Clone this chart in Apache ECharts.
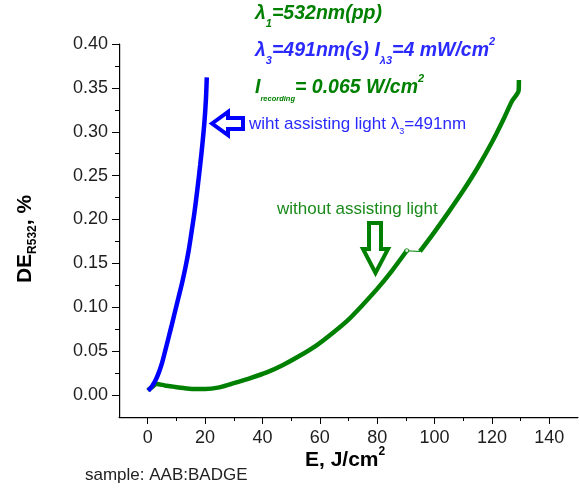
<!DOCTYPE html>
<html>
<head>
<meta charset="utf-8">
<script src="https://cdn.jsdelivr.net/npm/echarts@6/dist/echarts.min.js"></script>
<style>
html,body{margin:0;padding:0;background:#fff;}
#c{width:579px;height:489px;}
</style>
</head>
<body>
<div id="c"></div>
<script>
// ---- data ----
var blueWithAssist = [
  [0.2,0.005],[1.5,0.010],[2.7,0.0165],[3.8,0.025],[4.9,0.0355],[6.0,0.049],[7.2,0.0645],
  [8.4,0.080],[9.6,0.096],[10.8,0.112],[12.0,0.128],[13.2,0.146],[14.3,0.165],[15.3,0.186],
  [16.3,0.208],[17.3,0.234],[18.3,0.262],[19.1,0.287],[19.8,0.312],[20.3,0.337],[20.6,0.362]
];
var greenNoAssistA = [
  [0,0.0055],[1.5,0.009],[3.1,0.0125],[6,0.011],[9.5,0.0093],[13,0.0078],[16.5,0.0068],
  [20,0.0068],[25,0.0088],[30,0.0135],[35,0.0185],[41.5,0.0258],[47,0.034],[53,0.0448],
  [59,0.057],[64.7,0.0713],[70,0.086],[75,0.103],[80,0.121],[85,0.141],[90.3,0.1644]
];
var greenNoAssistB = [
  [94.9,0.1636],[100,0.186],[105,0.209],[110,0.233],[115,0.259],[120,0.288],[124,0.314],
  [127,0.335],[129.3,0.347],[129.4,0.359]
];
var xTickValues = [0,20,40,60,80,100,120,140];
var yTickValues = [0,0.05,0.10,0.15,0.20,0.25,0.30,0.35,0.40];
var xRange = [-10,150];
var yRange = [-0.025,0.40];

var FONT = 'Liberation Sans, Arial, sans-serif';
var GREEN = '#008000', BLUE = '#0000ff', BTXT = '#2a2aff', TXT = '#1e1e1e';

var chart = echarts.init(document.getElementById('c'), null, {renderer:'canvas'});

var gStyle = {fontFamily:FONT,fontSize:19.5,fontWeight:'bold',fontStyle:'italic',lineHeight:30,verticalAlign:'middle'};
function ext(base, o){ var r={}; for(var k in base) r[k]=base[k]; for(var k2 in o) r[k2]=o[k2]; return r; }

var option = {
  animation:false,
  backgroundColor:'#fff',
  grid:{left:119,right:1,top:44,bottom:72},
  xAxis:{
    type:'value', min:xRange[0], max:xRange[1], splitNumber:8,
    axisLine:{show:true,onZero:false,lineStyle:{color:'#000',width:1}},
    axisTick:{show:true,customValues:xTickValues,length:7,lineStyle:{color:'#000'}},
    minorTick:{show:true,splitNumber:2,length:4,lineStyle:{color:'#000',width:1}},
    axisLabel:{customValues:xTickValues,margin:12,color:TXT,fontSize:18,fontFamily:FONT},
    splitLine:{show:false}, minorSplitLine:{show:false}
  },
  yAxis:{
    type:'value', min:yRange[0], max:yRange[1], splitNumber:8,
    axisLine:{show:true,onZero:false,lineStyle:{color:'#000',width:1}},
    axisTick:{show:true,customValues:yTickValues,length:7,lineStyle:{color:'#000'}},
    minorTick:{show:true,splitNumber:2,length:4,lineStyle:{color:'#000',width:1}},
    axisLabel:{customValues:yTickValues,margin:11,color:TXT,fontSize:18,fontFamily:FONT,
      formatter:function(v){return v.toFixed(2);}},
    splitLine:{show:false}, minorSplitLine:{show:false}
  },
  series:[
    {type:'line',data:greenNoAssistA,smooth:0.3,showSymbol:false,
      lineStyle:{color:GREEN,width:4.5},z:3},
    {type:'line',data:[greenNoAssistA[greenNoAssistA.length-1],greenNoAssistB[0]],showSymbol:false,
      lineStyle:{color:GREEN,width:1.2},z:3},
    {type:'line',data:greenNoAssistB,smooth:0.3,showSymbol:false,
      lineStyle:{color:GREEN,width:4.5},z:3},
    {type:'scatter',data:[greenNoAssistA[greenNoAssistA.length-1]],symbol:'circle',symbolSize:4,
      itemStyle:{color:'#fff',borderColor:GREEN,borderWidth:1.2},z:4},
    {type:'line',data:blueWithAssist,smooth:0.3,showSymbol:false,
      lineStyle:{color:BLUE,width:4.5},z:5}
  ],
  graphic:[
    {type:'text',left:255,top:4,style:{
      text:'{g|λ}{s|1}{g|=532nm(pp)}',
      rich:{g:ext(gStyle,{fill:GREEN}),s:ext(gStyle,{fill:GREEN,fontSize:11,lineHeight:12,verticalAlign:'bottom'})}
    }},
    {type:'text',left:255,top:36,style:{
      text:'{g|λ}{s|3}{g|=491nm(s) I}{s|λ3}{g|=4 mW/cm}{p|2}',
      rich:{g:ext(gStyle,{fill:BTXT}),
        s:ext(gStyle,{fill:BTXT,fontSize:11,lineHeight:12,verticalAlign:'bottom'}),
        p:ext(gStyle,{fill:BTXT,fontSize:11,lineHeight:16,verticalAlign:'top'})}
    }},
    {type:'text',left:255,top:73,style:{
      text:'{g|I}{s|recording}{g|= 0.065 W/cm}{p|2}',
      rich:{g:ext(gStyle,{fill:GREEN}),
        s:ext(gStyle,{fill:GREEN,fontSize:7.5,lineHeight:10,verticalAlign:'bottom'}),
        p:ext(gStyle,{fill:GREEN,fontSize:11,lineHeight:16,verticalAlign:'top'})}
    }},
    {type:'text',left:249,top:116,style:{
      text:'{t|wiht assisting light λ}{s|3}{t|=491nm}',
      rich:{t:{fontFamily:FONT,fontSize:17,fill:BTXT,lineHeight:24,verticalAlign:'middle'},
        s:{fontFamily:FONT,fontSize:9,fill:BTXT,lineHeight:10,verticalAlign:'bottom'}}
    }},
    {type:'text',left:277,top:201,style:{
      text:'without assisting light',fontFamily:FONT,fontSize:17,fill:'#1a8a1a'
    }},
    {type:'polygon',shape:{points:[[212,123.5],[228,112],[228,118],[243,118],[243,129],[228,129],[228,135]]},
      style:{fill:'#fff',stroke:BLUE,lineWidth:4,lineJoin:'miter'},z:10},
    {type:'polygon',shape:{points:[[369,223],[381,223],[381,249],[388,249],[375.5,273],[363,249],[369,249]]},
      style:{fill:'#fff',stroke:GREEN,lineWidth:4,lineJoin:'miter'},z:10},
    {type:'text',x:25,y:239,rotation:Math.PI/2,style:{
      text:'{n|DE}{s|R532}{n|, %}',align:'center',verticalAlign:'middle',
      rich:{n:{fontFamily:FONT,fontSize:21,fontWeight:'bold',fill:'#000',lineHeight:28,verticalAlign:'middle'},
        s:{fontFamily:FONT,fontSize:12,fontWeight:'bold',fill:'#000',lineHeight:14,verticalAlign:'bottom'}}
    }},
    {type:'text',left:305,top:446,style:{
      text:'{n|E, J/cm}{p|2}',
      rich:{n:{fontFamily:FONT,fontSize:21,fontWeight:'bold',fill:'#000',lineHeight:28,verticalAlign:'middle'},
        p:{fontFamily:FONT,fontSize:12,fontWeight:'bold',fill:'#000',lineHeight:16,verticalAlign:'top'}}
    }},
    {type:'text',left:85,top:467,style:{
      text:'sample: AAB:BADGE',fontFamily:FONT,fontSize:17,fill:'#222'
    }}
  ]
};
chart.setOption(option);

// Axis lines as thin filled bars, placed through the chart's own scales
var pMin = chart.convertToPixel({gridIndex:0}, [xRange[0], yRange[0]]);
var pMax = chart.convertToPixel({gridIndex:0}, [xRange[1], yRange[1]]);
if (!pMin || isNaN(pMin[0])) { pMin = [119, 417]; pMax = [578, 44]; }
var ax = Math.round(pMin[0]), ay = Math.round(pMin[1]);
var ex = Math.round(pMax[0]), ey = Math.round(pMax[1]);
option.graphic.push(
  {type:'rect',shape:{x:ax,y:ay,width:ex-ax,height:1.2},style:{fill:'#000'},z:20,silent:true},
  {type:'rect',shape:{x:ax,y:ey,width:1.2,height:ay-ey+1},style:{fill:'#000'},z:20,silent:true}
);
chart.setOption(option, true);
</script>
</body>
</html>
